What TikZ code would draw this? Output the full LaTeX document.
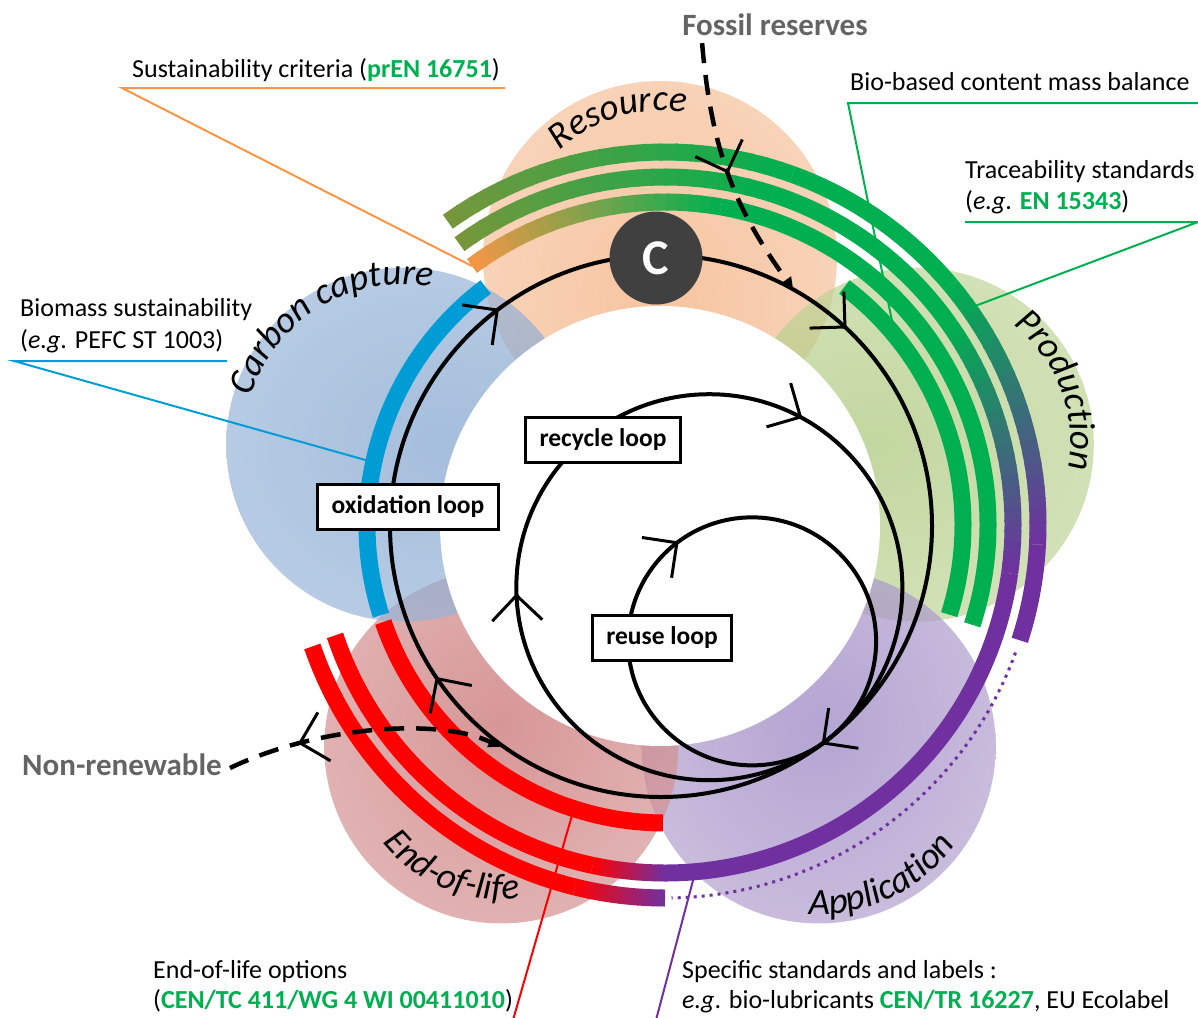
\documentclass[tikz,border=0pt]{standalone}
\usepackage{fontspec}
\setmainfont{Carlito}
\usepackage{tikz}
\usetikzlibrary{arrows.meta,calc,decorations.markings,decorations.text}

\definecolor{stdgreen}{RGB}{0,176,80}
\definecolor{bandolive}{RGB}{120,150,60}
\definecolor{bandorange}{RGB}{247,150,70}
\definecolor{bandpurple}{RGB}{112,48,160}
\definecolor{bandred}{RGB}{255,0,0}
\definecolor{bandblue}{RGB}{0,156,214}
\definecolor{labelgrey}{RGB}{100,100,100}
\definecolor{cgrey}{RGB}{64,64,64}
% petal colours (centre / rim)
\definecolor{resin}{RGB}{242,171,119}  \definecolor{resout}{RGB}{249,213,188}
\definecolor{capin}{RGB}{126,162,205}  \definecolor{capout}{RGB}{176,198,226}
\definecolor{prodin}{RGB}{169,198,119} \definecolor{prodout}{RGB}{212,226,183}
\definecolor{appin}{RGB}{148,126,191}  \definecolor{appout}{RGB}{205,191,219}
\definecolor{eolin}{RGB}{198,105,105}  \definecolor{eolout}{RGB}{226,184,184}
\colorlet{petalin}{white}\colorlet{petalout}{white}
\pgfdeclareradialshading[petalin,petalout]{petal}{\pgfpoint{0pt}{0pt}}{color(0bp)=(petalin); color(50bp)=(petalout)}

\newcommand{\std}[1]{\textbf{\color{stdgreen}#1}}
\newcommand{\petalfont}{\itshape\fontsize{37}{37}\selectfont}
% solid band: radius, from, to, colour
\newcommand{\sband}[4]{\draw[band,#4] (bc) ++(#2:#1) arc[start angle=#2, end angle=#3, radius=#1];}
% shaded band: radius, from, to, colour at from, colour at to
\newcommand{\gband}[5]{%
  \foreach \k in {0,...,23}{%
    \pgfmathsetmacro{\bandA}{#2+(#3-#2)*\k/24}%
    \pgfmathsetmacro{\bandB}{#2+(#3-#2)*min(\k+1.2,24)/24}%
    \pgfmathsetmacro{\pc}{100-(\k+0.5)*100/24}%
    \draw[band,#4!\pc!#5] (bc) ++(\bandA:#1) arc[start angle=\bandA, end angle=\bandB, radius=#1];
  }}

\begin{document}
\begin{tikzpicture}[x=1pt,y=1pt,>={Straight Barb[length=25pt,width=50pt,line width=3pt]},
  band/.style={line width=17pt,line cap=butt},
  lead/.style={line width=2pt},
  loopline/.style={line width=4pt,line cap=round},
  feed/.style={line width=4.5pt,dash pattern=on 20pt off 12pt},
  loopbox/.style={draw,line width=2.7pt,fill=white,inner xsep=14pt,minimum height=45pt,font=\bfseries\fontsize{25.5}{30}\selectfont},
  note/.style={anchor=base west,inner sep=0pt,font=\fontsize{26}{31}\selectfont},
  greylabel/.style={inner sep=2pt,text=labelgrey,font=\bfseries\fontsize{31}{31}\selectfont},
  petaltext/.style={decorate,decoration={text along path,text align=center,text={|\petalfont|#1}}}]
  \useasboundingbox (0,0) rectangle (1198,-1017);

  \coordinate (pc) at (660,-528);
  \coordinate (bc) at (665,-525);
  \coordinate (ox) at (661,-526);
  \coordinate (tp) at ($(ox)+(-51.7:271)$);
  \coordinate (rc) at ($(tp)+(128.3:193)$);
  \coordinate (ru) at ($(tp)+(128.3:124)$);

  % petals
  \foreach \ang/\cin/\cout in {90/resin/resout,18/prodin/prodout,-54/appin/appout,-126/eolin/eolout,162/capin/capout}{
    \colorlet{petalin}{\cin}\colorlet{petalout}{\cout}
    \shade[shading=petal,opacity=0.7] (pc) ++(\ang:270) circle[radius=177];
  }
  \fill[white] (660,-526) circle[radius=220];

  \coordinate (pres) at ($(pc)+(90:270)$);
  \coordinate (pprod) at ($(pc)+(18:270)$);
  \coordinate (papp) at ($(pc)+(-54:270)$);
  \coordinate (peol) at ($(pc)+(-126:270)$);
  \coordinate (pcap) at ($(pc)+(162:270)$);
  \path[petaltext=Resource] (pres) ++(134:147) arc[start angle=134,end angle=79,radius=147];
  \path[petaltext={Carbon capture}] (pcap) ++(165:160) arc[start angle=165,end angle=77,radius=160];
  \path[petaltext=Production] (pprod) ++(52:154) arc[start angle=52,end angle=-10,radius=154];
  \path[petaltext=Application] (papp) ++(-97:168) arc[start angle=-97,end angle=-32,radius=168];
  \path[petaltext=End-of-life] (peol) ++(-143:153) arc[start angle=-143,end angle=-81,radius=153];

  % bands
  \sband{298}{127}{197.6}{bandblue}
  \sband{298}{199}{269.6}{bandred}
  \sband{298}{53}{-17.5}{stdgreen}
  \gband{323}{126.7}{80}{bandorange}{stdgreen}
  \sband{323}{80}{-18}{stdgreen}
  \gband{348}{126.2}{72}{bandolive}{stdgreen}
  \sband{348}{72}{35}{stdgreen}
  \gband{348}{35}{-8}{stdgreen}{bandpurple}
  \sband{348}{-8}{-90}{bandpurple}
  \gband{348}{-90}{-102}{bandpurple}{bandred}
  \sband{348}{-102}{-161.5}{bandred}
  \gband{373}{125.6}{70}{bandolive}{stdgreen}
  \sband{373}{70}{40}{stdgreen}
  \gband{373}{40}{-3}{stdgreen}{bandpurple}
  \sband{373}{-3}{-18}{bandpurple}
  \draw[line width=3pt,bandpurple,dash pattern=on 3pt off 5pt] (bc) ++(-20:373) arc[start angle=-20,end angle=-89,radius=373];
  \gband{373}{-90}{-104}{bandpurple}{bandred}
  \sband{373}{-104}{-161}{bandred}

  % callouts
  \node[note] (sust) at (132,-77) {Sustainability criteria (\std{prEN 16751})};
  \node[note] (bio) at (850,-90) {Bio-based content mass balance};
  \node[note] (trace1) at (965,-178) {Traceability standards};
  \node[note] (trace2) at (965,-209) {(\textit{e.g}. \std{EN 15343})};
  \node[note] (biom1) at (20,-316) {Biomass sustainability};
  \node[note] (biom2) at (20,-348) {(\textit{e.g}. PEFC ST 1003)};
  \node[note] (eol1) at (153,-978) {End-of-life options};
  \node[note] (eol2) at (153,-1008) {(\std{CEN/TC 411/WG 4 WI 00411010})};
  \node[note] (spec1) at (682,-978) {Specific standards and labels :};
  \node[note] (spec2) at (682,-1008) {\textit{e.g}. bio-lubricants \std{CEN/TR 16227}, EU Ecolabel};

  \coordinate (sustL) at (122,-88);
  \coordinate (bioL) at (848,-103);
  \coordinate (traceR) at (1198,-222);
  \coordinate (biomL) at (14,-361);
  \coordinate (eolfoot) at (513,-1020);
  \coordinate (specfoot) at (656,-1020);
  \draw[lead,bandorange] ($(bc)+(126.7:323)$) -- (sustL) -- ++(383,0);
  \draw[lead,stdgreen] ($(bc)+(39.5:298)$) -- (bioL) -- ++(350,0);
  \draw[lead,stdgreen] ($(bc)+(35.5:373)$) -- (traceR) -- ++(-233,0);
  \draw[lead,bandblue] ($(bc)+(167.8:303)$) -- (biomL) -- ++(213,0);
  \draw[lead,bandred] ($(bc)+(252.2:298)$) -- (eolfoot);
  \draw[lead,bandpurple] ($(bc)+(-85:348)$) -- (specfoot);

  % loops
  \draw[loopline,postaction={decorate},decoration={markings,
      mark=at position 0.12 with {\arrow{>}},mark=at position 0.399 with {\arrow{>}},
      mark=at position 0.656 with {\arrow{>}},mark=at position 0.898 with {\arrow{>}}}]
    (ox) ++(90:271) arc[start angle=90,end angle=-270,radius=271];
  \draw[loopline,postaction={decorate},decoration={markings,
      mark=at position 0.08 with {\arrow{>}},mark=at position 0.745 with {\arrow{>}}}]
    (rc) ++(90:193) arc[start angle=90,end angle=-270,radius=193];
  \draw[loopline,postaction={decorate},decoration={markings,
      mark=at position 0.899 with {\arrow{>}}}]
    (ru) ++(90:124) arc[start angle=90,end angle=-270,radius=124];

  % fossil / non-renewable
  \node[greylabel] (fossil) at (775,-25) {Fossil reserves};
  \node[greylabel] (nonren) at (122,-765) {Non-renewable};
  \coordinate (fossilin) at ($(ox)+(60.8:271)$);
  \coordinate (nonrenout) at ($(ox)+(234:273)$);
  \draw[feed,-{Triangle[length=12pt,width=11pt]},postaction={decorate},
      decoration={markings,mark=at position 0.5 with {\arrow{>}}}]
    ([shift={(22,-5)}]fossil.south west) .. controls (712,-160) and (740,-215) .. (fossilin);
  \draw[feed,-{Triangle[length=12pt,width=11pt]},postaction={decorate},
      decoration={markings,mark=at position 0.26 with {\arrowreversed{>}}}]
    ([shift={(6,-3)}]nonren.east) .. controls (320,-725) and (440,-718) .. (nonrenout);

  \node[circle,fill=cgrey,minimum size=93pt,inner sep=0pt,text=white,font=\bfseries\fontsize{50}{50}\selectfont] (carbon) at (656,-258) {C};

  \node[loopbox] (recycle) at (603,-440) {recycle loop};
  \node[loopbox] (oxid) at (408,-507) {oxidation loop};
  \node[loopbox] (reuse) at (662,-638) {reuse loop};
\end{tikzpicture}
\end{document}
